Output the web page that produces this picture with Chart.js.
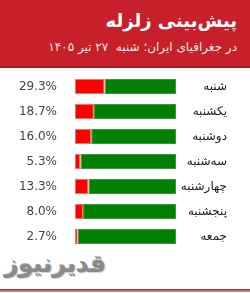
<!DOCTYPE html>
<html lang="fa">
<head>
<meta charset="utf-8">
<script src="https://cdn.jsdelivr.net/npm/chart.js@4"></script>
<style>
  html, body { margin: 0; padding: 0; background: #fff; }
  body { width: 250px; height: 293px; position: relative; overflow: hidden; font-family: "DejaVu Sans", sans-serif; }
  #sarbarg { position: absolute; left: 0; top: 0; width: 250px; height: 66px; background: #c8202a; border-bottom: 2px solid #a51b22; direction: rtl; }
  #onvan { position: absolute; right: 13px; top: 10px; color: #fff; font-weight: bold; font-size: 18px; white-space: nowrap; }
  #zironvan { position: absolute; right: 13px; top: 40px; color: #f6e6e6; font-size: 12px; white-space: nowrap; }
  #jaye-chart { position: absolute; left: 0; top: 68px; width: 250px; height: 182px; }
  #logo { position: absolute; left: 5px; top: 250px; color: #8a8a8a; font-weight: bold; font-size: 24px; direction: rtl; text-shadow: 1px 1px 0 #d4d4d4, -1px -1px 0 #a0a0a0; }
  #khat { position: absolute; left: 0; top: 289px; width: 250px; height: 3px; background: linear-gradient(#a52424, #d8a0a0); }
</style>
</head>
<body>
<div id="sarbarg">
  <div id="onvan">پیش‌بینی زلزله</div>
  <div id="zironvan">در جغرافیای ایران؛ شنبه&nbsp; ۲۷ تیر ۱۴۰۵</div>
</div>
<div id="jaye-chart"><canvas id="chartZelzele"></canvas></div>
<div id="logo">قدیرنیوز</div>
<div id="khat"></div>
<script>
// --------------------- DATOS ---------------------
const rooz = ["شنبه", "یکشنبه", "دوشنبه", "سه‌شنبه", "چهارشنبه", "پنجشنبه", "جمعه"];
const ehtemal = [29.3, 18.7, 16.0, 5.3, 13.3, 8.0, 2.7];
const baghi = [70.7, 81.3, 84.0, 94.7, 86.7, 92.0, 97.3];
const barchasbDarsad = ["29.3%", "18.7%", "16.0%", "5.3%", "13.3%", "8.0%", "2.7%"];

// --------------------- ETIQUETAS A LOS LADOS ---------------------
const pluginBarchasb = {
  id: "barchasb",
  afterDraw(chart) {
    const c = chart.ctx;
    const y = chart.scales.y;
    c.save();
    c.textBaseline = "middle";
    c.textAlign = "right";
    rooz.forEach((r, i) => {
      const py = y.getPixelForValue(i);
      c.font = '12px "DejaVu Sans"';
      c.fillStyle = "#222";
      c.fillText(r, 227, py);
      c.fillStyle = "#444";
      c.fillText(barchasbDarsad[i], 57, py);
    });
    c.restore();
  }
};

new Chart(document.getElementById("chartZelzele"), {
  type: "bar",
  data: {
    labels: rooz,
    datasets: [
      {
        label: "احتمال",
        data: ehtemal,
        backgroundColor: "#ff0000",
        borderColor: "#ff6a6a",
        borderWidth: 1,
        borderSkipped: false
      },
      {
        label: "باقی",
        data: baghi,
        backgroundColor: "#008000",
        borderColor: "#3a9a3a",
        borderWidth: 1,
        borderSkipped: false
      }
    ]
  },
  options: {
    indexAxis: "y",
    responsive: true,
    maintainAspectRatio: false,
    animation: false,
    layout: { padding: { left: 75, right: 74, top: 6, bottom: 1 } },
    barPercentage: 0.6,
    categoryPercentage: 1,
    plugins: { legend: { display: false }, tooltip: { enabled: false } },
    scales: {
      x: { stacked: true, min: 0, max: 100, display: false },
      y: { stacked: true, display: false }
    }
  },
  plugins: [pluginBarchasb]
});
</script>
</body>
</html>
